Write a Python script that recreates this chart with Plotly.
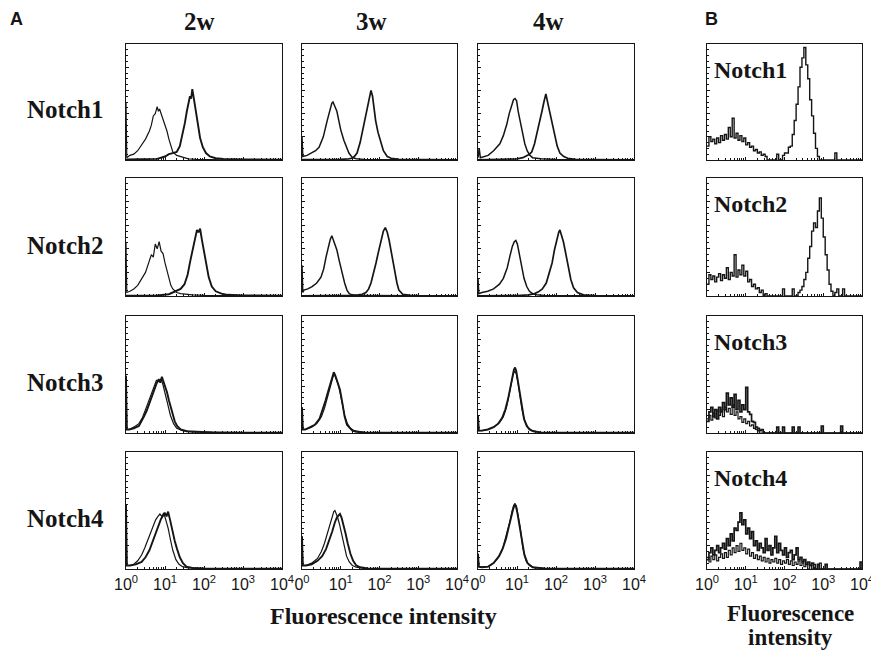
import plotly.graph_objects as go

# ---------------- data (x in log10 fluorescence units, y in % of panel height) -------------
# Panel A, Notch1
A11_C_X = [0, 0.02, 0.1, 0.2, 0.3, 0.4, 0.5, 0.6, 0.65, 0.7, 0.75, 0.8, 0.83, 0.86, 0.9, 0.95, 1.0, 1.05, 1.1, 1.15, 1.2, 1.3, 1.4, 1.5, 1.6, 1.8, 2.0, 2.5, 3.0, 4.0]
A11_C_Y = [50, 2, 4, 5, 8, 13, 18, 25, 30, 38, 40, 46, 42, 44, 40, 37, 32, 25, 18, 12, 7, 4, 3, 2, 1, 0.5, 0.3, 0.2, 0.2, 0.2]
A11_S_X = [0, 0.5, 0.8, 1.0, 1.1, 1.2, 1.3, 1.38, 1.45, 1.51, 1.56, 1.6, 1.64, 1.67, 1.7, 1.73, 1.77, 1.81, 1.85, 1.9, 1.97, 2.05, 2.15, 2.3, 2.5, 3, 4]
A11_S_Y = [0.5, 0.5, 1, 3, 5, 6, 7, 12, 22, 32, 42, 48, 55, 53, 61, 55, 47, 38, 28, 19, 11, 6, 3, 1.5, 1, 0.5, 0.3]

A12_C_X = [0, 0.02, 0.13, 0.25, 0.35, 0.44, 0.55, 0.65, 0.72, 0.77, 0.8, 0.84, 0.9, 0.95, 1.0, 1.08, 1.15, 1.21, 1.3, 1.4, 1.6, 2, 3, 4]
A12_C_Y = [20, 3, 4, 6, 8, 11, 20, 34, 44, 49, 50, 47, 42, 34, 26, 17, 10, 6, 2, 1, 0.5, 0.3, 0.2, 0.2]
A12_S_X = [0, 0.5, 1.0, 1.2, 1.29, 1.35, 1.42, 1.5, 1.55, 1.62, 1.68, 1.73, 1.78, 1.82, 1.86, 1.9, 1.96, 2.03, 2.1, 2.2, 2.3, 2.5, 3, 4]
A12_S_Y = [0.3, 0.3, 0.5, 1, 1.5, 3, 6, 15, 23, 36, 46, 54, 60, 55, 45, 34, 24, 15, 8, 3, 1.5, 0.5, 0.3, 0.2]

A13_C_X = [0, 0.03, 0.06, 0.15, 0.26, 0.4, 0.56, 0.65, 0.74, 0.8, 0.87, 0.91, 0.95, 0.99, 1.03, 1.09, 1.15, 1.2, 1.26, 1.33, 1.4, 1.6, 2, 3, 4]
A13_C_Y = [2, 10, 2, 3, 4, 8, 14, 21, 31, 40, 48, 52, 53, 51, 42, 32, 22, 14, 8, 4, 2, 1, 0.5, 0.2, 0.2]
A13_S_X = [0, 0.5, 1.0, 1.15, 1.25, 1.32, 1.38, 1.45, 1.51, 1.58, 1.64, 1.69, 1.74, 1.79, 1.85, 1.91, 1.97, 2.03, 2.1, 2.2, 2.3, 2.5, 3, 4]
A13_S_Y = [0.2, 0.3, 1, 2, 3.5, 5, 7, 14, 23, 32, 42, 50, 57, 49, 40, 30, 20, 12, 6, 3, 1.5, 0.5, 0.3, 0.2]

# Panel A, Notch2
A21_C_X = [0, 0.02, 0.1, 0.2, 0.3, 0.4, 0.5, 0.6, 0.65, 0.7, 0.75, 0.8, 0.85, 0.9, 0.95, 1.0, 1.05, 1.1, 1.15, 1.2, 1.3, 1.4, 1.5, 1.7, 2, 3, 4]
A21_C_Y = [45, 3, 4, 6, 9, 14, 20, 30, 35, 33, 44, 40, 46, 38, 36, 28, 22, 14, 9, 6, 3, 2, 1.5, 1, 0.5, 0.2, 0.2]
A21_S_X = [0, 0.8, 1.1, 1.2, 1.3, 1.4, 1.5, 1.58, 1.65, 1.72, 1.78, 1.82, 1.86, 1.9, 1.95, 2.0, 2.06, 2.12, 2.2, 2.3, 2.45, 2.6, 3, 4]
A21_S_Y = [0.3, 0.5, 1.5, 3, 4, 6, 10, 18, 30, 42, 50, 56, 54, 57, 47, 38, 26, 16, 8, 4, 2, 1, 0.5, 0.3]

A22_C_X = [0, 0.02, 0.05, 0.15, 0.26, 0.38, 0.49, 0.56, 0.62, 0.68, 0.73, 0.77, 0.81, 0.86, 0.9, 0.96, 1.03, 1.1, 1.16, 1.22, 1.29, 1.4, 1.6, 2, 3, 4]
A22_C_Y = [26, 3, 5, 6, 8, 11, 16, 23, 33, 42, 48, 51, 47, 44, 39, 30, 19, 11, 5, 2, 1, 0.5, 0.5, 0.3, 0.2, 0.2]
A22_S_X = [0, 1.0, 1.3, 1.45, 1.55, 1.65, 1.72, 1.78, 1.85, 1.91, 1.97, 2.04, 2.1, 2.15, 2.2, 2.25, 2.3, 2.35, 2.4, 2.45, 2.5, 2.6, 2.8, 3, 4]
A22_S_Y = [0.2, 0.3, 0.5, 1, 1.5, 3, 6, 11, 19, 28, 37, 47, 55, 58, 54, 47, 39, 28, 20, 11, 5, 1.5, 0.5, 0.3, 0.2]

A23_C_X = [0, 0.02, 0.1, 0.25, 0.4, 0.55, 0.65, 0.75, 0.82, 0.88, 0.93, 0.97, 1.01, 1.06, 1.12, 1.18, 1.25, 1.32, 1.4, 1.5, 1.7, 2, 3, 4]
A23_C_Y = [15, 2, 3, 4, 6, 10, 15, 24, 34, 42, 46, 47, 44, 36, 25, 15, 8, 4, 2, 1, 0.5, 0.3, 0.2, 0.2]
A23_S_X = [0, 1.0, 1.3, 1.45, 1.55, 1.65, 1.75, 1.82, 1.9, 1.96, 2.02, 2.07, 2.1, 2.14, 2.19, 2.25, 2.31, 2.38, 2.45, 2.55, 2.7, 3, 4]
A23_S_Y = [0.2, 0.3, 1, 2, 3.5, 6, 11, 18, 28, 39, 48, 54, 56, 52, 46, 36, 25, 14, 7, 3, 1, 0.3, 0.2]

# Panel A, Notch3
A31_S_X = [0, 0.02, 0.08, 0.2, 0.33, 0.4, 0.46, 0.53, 0.59, 0.65, 0.72, 0.78, 0.84, 0.88, 0.92, 0.96, 1.0, 1.05, 1.1, 1.18, 1.25, 1.31, 1.4, 1.56, 1.8, 2.2, 3, 4]
A31_S_Y = [49, 3, 3, 4, 6, 10, 14, 19, 25, 31, 38, 42, 46, 43, 48, 44, 41, 35, 28, 17, 10, 6, 3, 1.5, 1, 0.5, 0.3, 0.2]
A31_C_X = [0, 0.02, 0.08, 0.2, 0.33, 0.42, 0.5, 0.58, 0.65, 0.72, 0.78, 0.84, 0.9, 0.95, 1.0, 1.06, 1.14, 1.22, 1.3, 1.45, 1.7, 2.2, 3, 4]
A31_C_Y = [49, 3, 3, 5, 8, 13, 20, 27, 34, 41, 45, 44, 46, 41, 33, 26, 15, 8, 4, 2, 1, 0.5, 0.3, 0.2]

A32_S_X = [0, 0.02, 0.08, 0.2, 0.33, 0.45, 0.54, 0.61, 0.67, 0.73, 0.78, 0.82, 0.86, 0.9, 0.94, 0.98, 1.04, 1.1, 1.16, 1.23, 1.3, 1.4, 1.6, 2, 3, 4]
A32_S_Y = [22, 3, 3, 5, 7, 12, 20, 28, 35, 42, 48, 52, 49, 45, 41, 37, 26, 14, 7, 4, 2, 1, 0.5, 0.3, 0.2, 0.2]
A32_C_X = [0, 0.02, 0.1, 0.25, 0.38, 0.5, 0.58, 0.65, 0.71, 0.76, 0.8, 0.84, 0.88, 0.93, 0.98, 1.04, 1.1, 1.17, 1.25, 1.35, 1.6, 2, 3, 4]
A32_C_Y = [22, 3, 3, 5, 8, 14, 21, 29, 37, 43, 48, 50, 47, 42, 35, 25, 15, 8, 4, 2, 0.5, 0.3, 0.2, 0.2]

A33_S_X = [0, 0.02, 0.1, 0.25, 0.4, 0.52, 0.62, 0.7, 0.77, 0.83, 0.88, 0.92, 0.95, 0.98, 1.02, 1.07, 1.12, 1.18, 1.25, 1.32, 1.42, 1.6, 2, 3, 4]
A33_S_Y = [15, 2, 2, 3, 5, 8, 13, 20, 29, 40, 48, 54, 56, 53, 45, 34, 22, 12, 6, 3, 1.5, 0.5, 0.3, 0.2, 0.2]
A33_C_X = [0, 0.02, 0.1, 0.25, 0.4, 0.55, 0.65, 0.73, 0.8, 0.86, 0.9, 0.94, 0.98, 1.02, 1.07, 1.13, 1.2, 1.28, 1.38, 1.6, 2, 3, 4]
A33_C_Y = [15, 2, 2, 3, 5, 9, 14, 22, 33, 44, 50, 53, 51, 44, 32, 20, 10, 5, 2, 0.5, 0.3, 0.2, 0.2]

# Panel A, Notch4
A41_C_X = [0, 0.02, 0.1, 0.2, 0.3, 0.4, 0.48, 0.56, 0.63, 0.7, 0.76, 0.82, 0.87, 0.92, 0.97, 1.02, 1.08, 1.14, 1.2, 1.28, 1.36, 1.45, 1.6, 2, 3, 4]
A41_C_Y = [55, 3, 3, 4, 7, 12, 18, 25, 31, 37, 42, 45, 47, 45, 48, 42, 35, 25, 16, 8, 4, 2, 1, 0.4, 0.2, 0.2]
A41_S_X = [0, 0.02, 0.1, 0.25, 0.4, 0.5, 0.6, 0.68, 0.76, 0.84, 0.9, 0.96, 1.0, 1.04, 1.08, 1.13, 1.19, 1.25, 1.31, 1.38, 1.46, 1.55, 1.7, 2, 3, 4]
A41_S_Y = [55, 3, 3, 4, 6, 10, 16, 23, 31, 38, 43, 46, 48, 45, 49, 42, 32, 24, 17, 10, 5, 2, 1, 0.4, 0.2, 0.2]

A42_C_X = [0, 0.02, 0.1, 0.25, 0.4, 0.5, 0.58, 0.65, 0.72, 0.78, 0.82, 0.85, 0.88, 0.92, 0.97, 1.02, 1.08, 1.15, 1.22, 1.3, 1.4, 1.6, 2, 3, 4]
A42_C_Y = [28, 3, 3, 5, 9, 15, 22, 30, 38, 45, 49, 50, 48, 44, 38, 30, 20, 11, 6, 3, 1.5, 0.5, 0.3, 0.2, 0.2]
A42_S_X = [0, 0.02, 0.1, 0.25, 0.4, 0.52, 0.62, 0.7, 0.78, 0.85, 0.9, 0.95, 0.98, 1.02, 1.07, 1.12, 1.18, 1.25, 1.32, 1.4, 1.5, 1.7, 2, 3, 4]
A42_S_Y = [28, 3, 3, 4, 7, 11, 17, 24, 32, 40, 44, 46, 47, 44, 38, 31, 22, 13, 7, 3, 1.5, 0.5, 0.3, 0.2, 0.2]

A43_C_X = [0, 0.02, 0.1, 0.26, 0.4, 0.52, 0.62, 0.69, 0.76, 0.82, 0.87, 0.91, 0.95, 0.99, 1.03, 1.08, 1.15, 1.23, 1.32, 1.46, 1.7, 2, 3, 4]
A43_C_Y = [13, 2, 1.5, 2, 5, 10, 16, 24, 32, 41, 49, 54, 56, 53, 45, 36, 18, 7, 3, 1, 0.5, 0.3, 0.2, 0.2]
A43_S_X = [0, 0.02, 0.1, 0.26, 0.4, 0.54, 0.64, 0.72, 0.79, 0.85, 0.9, 0.94, 0.97, 1.01, 1.06, 1.12, 1.19, 1.27, 1.4, 1.7, 2, 3, 4]
A43_S_Y = [13, 2, 1.5, 2, 5, 11, 18, 26, 36, 45, 51, 55, 54, 48, 38, 25, 12, 5, 1.5, 0.5, 0.3, 0.2, 0.2]

# Panel B: histogram channels (log10 units) and counts (% of panel height)
B_BINS = [0.00, 0.05, 0.10, 0.15, 0.20, 0.25, 0.30, 0.35, 0.40, 0.45,
          0.50, 0.55, 0.60, 0.65, 0.70, 0.75, 0.80, 0.85, 0.90, 0.95,
          1.00, 1.05, 1.10, 1.15, 1.20, 1.25, 1.30, 1.35, 1.40, 1.45,
          1.50, 1.55, 1.60, 1.65, 1.70, 1.75, 1.80, 1.85, 1.90, 1.95,
          2.00, 2.05, 2.10, 2.15, 2.20, 2.25, 2.30, 2.35, 2.40, 2.45,
          2.50, 2.55, 2.60, 2.65, 2.70, 2.75, 2.80, 2.85, 2.90, 2.95,
          3.00, 3.05, 3.10, 3.15, 3.20, 3.25, 3.30, 3.35, 3.40, 3.45,
          3.50, 3.55, 3.60, 3.65, 3.70, 3.75, 3.80, 3.85, 3.90, 3.95,
          4.00]
B1_Y = [12, 20, 16, 18, 14, 19, 15, 21, 17, 22,
        18, 28, 20, 36, 19, 23, 17, 21, 16, 19,
        13, 15, 11, 12, 8, 9, 6, 7, 4, 5,
        3, 0, 0, 0, 0, 0, 5, 0, 0, 4,
        6, 6, 11, 12, 22, 34, 48, 63, 80, 88,
        97, 82, 70, 52, 38, 23, 10, 3, 0, 0,
        0, 0, 0, 0, 0, 0, 6, 0, 0, 0,
        0, 0, 0, 0, 0, 0, 0, 0, 0, 0,
        0]
B2_Y = [10, 18, 14, 17, 12, 16, 19, 13, 18, 15,
        24, 14, 20, 17, 35, 16, 22, 18, 26, 17,
        21, 12, 14, 8, 10, 6, 7, 3, 5, 0,
        2, 0, 0, 0, 0, 0, 0, 0, 0, 6,
        0, 0, 0, 0, 6, 0, 0, 3, 5, 8,
        14, 20, 32, 42, 55, 62, 58, 72, 83, 66,
        50, 35, 22, 10, 4, 0, 3, 6, 0, 0,
        6, 0, 0, 0, 0, 0, 0, 0, 0, 0,
        0]
B3_S_Y = [10, 18, 22, 14, 20, 12, 22, 18, 26, 20,
          34, 24, 30, 22, 33, 20, 28, 18, 24, 20,
          39, 18, 16, 10, 9, 5, 4, 2, 3, 0,
          0, 0, 0, 0, 0, 0, 5, 0, 0, 5,
          0, 0, 0, 0, 5, 0, 0, 5, 0, 0,
          0, 0, 0, 0, 0, 0, 0, 0, 0, 6,
          0, 0, 0, 0, 0, 0, 0, 0, 0, 6,
          0, 0, 0, 0, 0, 0, 0, 0, 0, 0,
          0]
B3_C_Y = [12, 15, 11, 17, 13, 19, 15, 20, 14, 22,
          18, 21, 16, 24, 15, 18, 12, 14, 9, 12,
          8, 10, 6, 7, 4, 3, 2, 0, 0, 0,
          0, 0, 0, 0, 0, 0, 0, 0, 0, 0,
          0, 0, 0, 0, 0, 0, 0, 0, 0, 0,
          0, 0, 0, 0, 0, 0, 0, 0, 0, 0,
          0, 0, 0, 0, 0, 0, 0, 0, 0, 0,
          0, 0, 0, 0, 0, 0, 0, 0, 0, 0,
          0]
B4_S_Y = [8, 14, 18, 12, 16, 20, 14, 18, 22, 17,
          26, 20, 30, 24, 35, 33, 40, 48, 38, 42,
          30, 35, 26, 32, 20, 24, 16, 22, 18, 14,
          26, 16, 20, 12, 18, 28, 14, 22, 16, 12,
          18, 10, 14, 16, 8, 12, 18, 8, 10, 6,
          8, 4, 6, 3, 5, 0, 0, 4, 0, 0,
          0, 4, 0, 0, 0, 0, 0, 0, 0, 0,
          0, 0, 0, 0, 0, 0, 0, 0, 0, 6,
          0]
B4_C_Y = [10, 6, 11, 8, 12, 7, 10, 13, 9, 14,
          10, 16, 12, 18, 14, 20, 15, 22, 16, 18,
          13, 17, 11, 14, 9, 12, 8, 11, 7, 10,
          6, 9, 5, 8, 6, 9, 5, 8, 4, 7,
          5, 8, 4, 7, 3, 6, 4, 7, 3, 5,
          2, 4, 0, 3, 0, 4, 0, 0, 5, 0,
          0, 0, 0, 0, 0, 0, 0, 0, 0, 0,
          0, 0, 0, 0, 0, 0, 0, 0, 0, 0,
          0]

ROW_LABELS = ["Notch1", "Notch2", "Notch3", "Notch4"]
COL_TITLES = ["2w", "3w", "4w"]
TICK_VALS = [1, 10, 100, 1000, 10000]
TICK_TEXT_FIRST = ["10<sup>0</sup>", "10<sup>1</sup>", "10<sup>2</sup>", "10<sup>3</sup>", "10<sup>4</sup>"]
TICK_TEXT_NEXT = ["0<sup>0</sup>", "10<sup>1</sup>", "10<sup>2</sup>", "10<sup>3</sup>", "10<sup>4</sup>"]
XTITLE = "Fluorescence intensity"

# ---------------- layout geometry -------------
W, H = 871, 653
COL_PX = [(126, 282), (302, 457), (478, 634), (707, 862)]
ROW_PX = [(44, 160), (178, 296), (316, 433), (452, 569)]
INK = "#151515"
THIN, THICK = 1.2, 1.9

PANELS = [
    (0, 0, [(A11_C_X, A11_C_Y, THIN, "linear"), (A11_S_X, A11_S_Y, THICK, "linear")]),
    (0, 1, [(A12_C_X, A12_C_Y, 1.5, "linear"), (A12_S_X, A12_S_Y, 1.7, "linear")]),
    (0, 2, [(A13_C_X, A13_C_Y, 1.5, "linear"), (A13_S_X, A13_S_Y, 1.7, "linear")]),
    (1, 0, [(A21_C_X, A21_C_Y, THIN, "linear"), (A21_S_X, A21_S_Y, THICK, "linear")]),
    (1, 1, [(A22_C_X, A22_C_Y, 1.5, "linear"), (A22_S_X, A22_S_Y, 1.7, "linear")]),
    (1, 2, [(A23_C_X, A23_C_Y, 1.5, "linear"), (A23_S_X, A23_S_Y, 1.7, "linear")]),
    (2, 0, [(A31_C_X, A31_C_Y, THIN, "linear"), (A31_S_X, A31_S_Y, THICK, "linear")]),
    (2, 1, [(A32_C_X, A32_C_Y, THIN, "linear"), (A32_S_X, A32_S_Y, THICK, "linear")]),
    (2, 2, [(A33_C_X, A33_C_Y, THIN, "linear"), (A33_S_X, A33_S_Y, THICK, "linear")]),
    (3, 0, [(A41_C_X, A41_C_Y, THIN, "linear"), (A41_S_X, A41_S_Y, THICK, "linear")]),
    (3, 1, [(A42_C_X, A42_C_Y, THIN, "linear"), (A42_S_X, A42_S_Y, THICK, "linear")]),
    (3, 2, [(A43_C_X, A43_C_Y, THIN, "linear"), (A43_S_X, A43_S_Y, THICK, "linear")]),
    (0, 3, [(B_BINS, B1_Y, 1.4, "hv")]),
    (1, 3, [(B_BINS, B2_Y, 1.4, "hv")]),
    (2, 3, [(B_BINS, B3_C_Y, THIN, "hv"), (B_BINS, B3_S_Y, 1.7, "hv")]),
    (3, 3, [(B_BINS, B4_C_Y, THIN, "hv"), (B_BINS, B4_S_Y, 1.7, "hv")]),
]

MINOR_X = [m * 10 ** d for d in range(4) for m in range(2, 10)]

fig = go.Figure()
layout_axes = {}
for k, (r, c, curves) in enumerate(PANELS, start=1):
    sfx = "" if k == 1 else str(k)
    for xs, ys, w, shape in curves:
        fig.add_trace(go.Scatter(
            x=[10 ** v for v in xs], y=ys, mode="lines",
            line=dict(color=INK, width=w, shape=shape),
            xaxis="x" + sfx, yaxis="y" + sfx, showlegend=False, hoverinfo="skip"))
    x0, x1 = COL_PX[c]
    y0, y1 = ROW_PX[r]
    bottom = (r == 3)
    layout_axes["xaxis" + sfx] = dict(
        domain=[x0 / W, x1 / W], anchor="y" + sfx, type="log", range=[0, 4],
        automargin=False, ticklabeloverflow="allow",
        showline=True, mirror=True, linecolor=INK, linewidth=1.4,
        ticks="inside", ticklen=3, tickwidth=1, tickcolor=INK,
        tickvals=TICK_VALS,
        ticktext=(TICK_TEXT_NEXT if c in (1, 2) else TICK_TEXT_FIRST),
        showticklabels=bottom,
        tickfont=dict(family="Liberation Sans", size=16, color=INK),
        minor=dict(ticks="inside", ticklen=2, tickcolor=INK, tickvals=MINOR_X),
        showgrid=False, zeroline=False, fixedrange=True)
    layout_axes["yaxis" + sfx] = dict(
        domain=[1 - y1 / H, 1 - y0 / H], anchor="x" + sfx, range=[0, 100],
        automargin=False,
        showline=True, mirror=True, linecolor=INK, linewidth=1.4,
        ticks="inside", ticklen=3, tickwidth=1, tickcolor=INK, dtick=20,
        minor=dict(ticks="inside", ticklen=2, tickcolor=INK, dtick=5),
        showticklabels=False, showgrid=False, zeroline=False, fixedrange=True)

ann = []
def txt(s, x, y, size, family="Liberation Serif", xanchor="center"):
    ann.append(dict(text=s, x=x / W, y=1 - y / H, xref="paper", yref="paper",
                    xanchor=xanchor, yanchor="middle", showarrow=False,
                    font=dict(family=family, size=size, color=INK)))

txt("<b>A</b>", 16, 19, 18, family="Liberation Sans")
txt("<b>B</b>", 711, 19, 18, family="Liberation Sans")
for c, t in enumerate(COL_TITLES):
    txt("<b>%s</b>" % t, [199, 371, 548][c], 21, 25)
for r, lab in enumerate(ROW_LABELS):
    y0, y1 = ROW_PX[r]
    txt("<b>%s</b>" % lab, 65, (y0 + y1) / 2 + 8, 25)
    txt("<b>%s</b>" % lab, 712, y0 + 26, 24, xanchor="left")
txt("<b>%s</b>" % XTITLE, 383, 616, 24)
txt("<b>Fluorescence</b>", 790, 613, 23)
txt("<b>intensity</b>", 790, 637, 23)

fig.update_layout(width=W, height=H, margin=dict(l=0, r=0, t=0, b=0, autoexpand=False),
                  paper_bgcolor="white", plot_bgcolor="white", template="none",
                  annotations=ann, **layout_axes)
fig.write_html("out.html", config={"displayModeBar": False, "staticPlot": True},
               post_script="document.body.style.margin='0px';document.body.style.padding='0px';document.body.style.overflow='hidden';")
